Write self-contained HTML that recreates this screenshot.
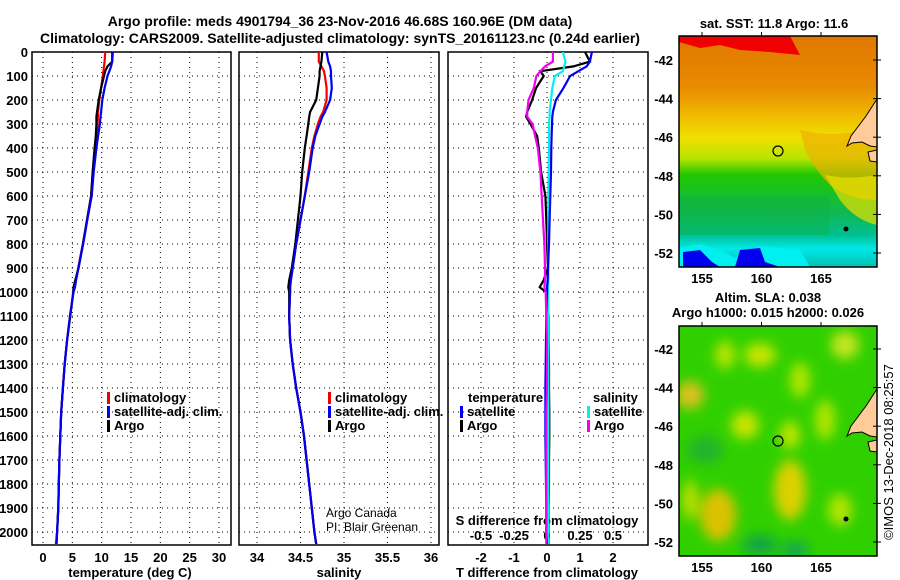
<!DOCTYPE html>
<html><head><meta charset="utf-8">
<style>
html,body{margin:0;padding:0;background:#fff;}
svg{display:block;font-family:"Liberation Sans",sans-serif;}
.t{font-weight:bold;font-size:13px;fill:#000;}
.n{font-size:12px;fill:#000;}
.ttl{font-weight:bold;font-size:14px;fill:#000;}
.grid{stroke:#000;stroke-width:1;stroke-dasharray:1,4;}
</style></head>
<body>
<svg id="chart" width="900" height="580" viewBox="0 0 900 580" xmlns="http://www.w3.org/2000/svg">
<defs>
<linearGradient id="sstGrad" x1="0" y1="0" x2="0" y2="1">
<stop offset="0" stop-color="#e07800"/><stop offset="0.22" stop-color="#e88a00"/>
<stop offset="0.34" stop-color="#f0b800"/><stop offset="0.44" stop-color="#f0e000"/>
<stop offset="0.53" stop-color="#b8e400"/><stop offset="0.6" stop-color="#20c800"/>
<stop offset="0.76" stop-color="#10b850"/><stop offset="0.86" stop-color="#00c090"/>
<stop offset="0.92" stop-color="#00e8e8"/><stop offset="1" stop-color="#00c0b0"/>
</linearGradient>
<filter id="blur" x="-30%" y="-30%" width="160%" height="160%"><feGaussianBlur stdDeviation="6"/></filter>
<clipPath id="clipTop"><rect x="679" y="36" width="198" height="231"/></clipPath>
<clipPath id="clipBot"><rect x="679" y="326" width="198" height="230"/></clipPath>
</defs>

<text class="ttl" x="340" y="26" text-anchor="middle">Argo profile: meds 4901794_36 23-Nov-2016 46.68S 160.96E (DM data)</text>
<text class="ttl" x="340" y="43" text-anchor="middle">Climatology: CARS2009. Satellite-adjusted climatology: synTS_20161123.nc (0.24d earlier)</text>

<g id="p1"></g>
<g id="p2"></g>
<g id="p3"></g>

<!-- SST map -->
<g>
<g clip-path="url(#clipTop)">
<rect x="679" y="36" width="198" height="231" fill="url(#sstGrad)"/>
<path d="M679,36 L790,36 L800,55 L770,52 L740,50 L720,45 L700,48 L679,42Z" fill="#f00000"/>
<path d="M800,130 Q840,140 877,125 L877,200 Q850,200 830,185 Q815,170 805,150Z" fill="#f0b000" opacity="0.7"/>
<path d="M825,175 Q850,180 877,175 L877,225 Q855,220 840,200Z" fill="#e8e000" opacity="0.7"/>
<rect x="679" y="195" width="150" height="40" fill="#10b040" opacity="0.4"/>
<path d="M679,248 L700,244 L720,250 L735,258 L760,246 L800,250 L810,267 L679,267Z" fill="#00f0f0"/>
<path d="M683,252 L700,250 L712,262 L720,267 L683,267Z" fill="#0000f0"/>
<path d="M740,250 L760,248 L765,262 L780,267 L735,267Z" fill="#0000f0"/>
<path d="M877,99 L866,116 L857,128 L851,136 L847,146 L852,143 L862,142 L870,146 L877,147Z" fill="#ffcc99" stroke="#000" stroke-width="1"/>
<path d="M868,152 L877,150 L877,162 L870,161Z" fill="#ffcc99" stroke="#000" stroke-width="1"/>
<circle cx="846" cy="229" r="2.5" fill="#000"/>
</g>
<rect x="679" y="36" width="198" height="231" fill="none" stroke="#000" stroke-width="1.5"/>
<circle cx="778" cy="151" r="5" fill="none" stroke="#000" stroke-width="1.2"/>
<text class="t" x="774" y="28" text-anchor="middle">sat. SST: 11.8 Argo: 11.6</text>
<g id="mapTopTicks"></g>
</g>

<!-- SLA map -->
<g>
<g clip-path="url(#clipBot)">
<rect x="679" y="326" width="198" height="230" fill="#30d000"/>
<g filter="url(#blur)" opacity="0.9">
<ellipse cx="690" cy="395" rx="14" ry="14" fill="#f0c020"/>
<ellipse cx="760" cy="355" rx="16" ry="12" fill="#d8e800"/>
<ellipse cx="725" cy="355" rx="10" ry="14" fill="#c8e800"/>
<ellipse cx="845" cy="345" rx="14" ry="14" fill="#d8e820"/>
<ellipse cx="800" cy="380" rx="10" ry="18" fill="#c0e800"/>
<ellipse cx="745" cy="425" rx="14" ry="14" fill="#d8e800"/>
<ellipse cx="790" cy="435" rx="10" ry="14" fill="#d0e800"/>
<ellipse cx="825" cy="420" rx="10" ry="20" fill="#c0e800"/>
<ellipse cx="790" cy="490" rx="16" ry="30" fill="#f0d000"/>
<ellipse cx="718" cy="515" rx="18" ry="26" fill="#f0c000"/>
<ellipse cx="690" cy="500" rx="8" ry="20" fill="#d0e000"/>
<ellipse cx="840" cy="510" rx="12" ry="16" fill="#c0e800"/>
<ellipse cx="760" cy="545" rx="18" ry="10" fill="#10a050"/>
<ellipse cx="795" cy="550" rx="14" ry="8" fill="#10a060"/>
<ellipse cx="705" cy="450" rx="18" ry="14" fill="#20b030"/>
</g>
<path d="M877,389 L866,406 L857,418 L851,426 L847,436 L852,433 L862,432 L870,436 L877,437Z" fill="#ffcc99" stroke="#000" stroke-width="1"/>
<path d="M868,442 L877,440 L877,452 L870,451Z" fill="#ffcc99" stroke="#000" stroke-width="1"/>
<circle cx="846" cy="519" r="2.5" fill="#000"/>
</g>
<rect x="679" y="326" width="198" height="230" fill="none" stroke="#000" stroke-width="1.5"/>
<circle cx="778" cy="441" r="5" fill="none" stroke="#000" stroke-width="1.2"/>
<text class="t" x="768" y="302" text-anchor="middle">Altim. SLA: 0.038</text>
<text class="t" x="768" y="317" text-anchor="middle">Argo h1000: 0.015 h2000: 0.026</text>
<g id="mapBotTicks"></g>
</g>
<text x="893" y="452" font-size="13" text-anchor="middle" transform="rotate(-90 893 452)" fill="#000">©IMOS 13-Dec-2018 08:25:57</text>

<script>
const depths      = [0,40,60,80,100,150,200,250,270,300,350,400,500,600,700,800,900,950,980,1000,1100,1200,1300,1400,1500,1600,1700,1800,1900,2000,2050];
const tempClim    = [10.6,10.5,10.4,10.3,10.2,9.9,9.6,9.4,9.35,9.3,9.1,8.9,8.5,8.2,7.5,6.8,6.0,5.6,5.4,5.2,4.6,4.1,3.7,3.4,3.1,2.95,2.8,2.7,2.6,2.4,2.2];
const tempSat     = [11.9,11.8,11.6,11.3,11.0,10.5,10.1,9.9,9.8,9.7,9.4,9.1,8.65,8.3,7.55,6.85,6.05,5.65,5.45,5.2,4.6,4.1,3.7,3.4,3.1,2.95,2.8,2.7,2.6,2.4,2.3];
const tempArgo    = [11.8,11.8,11.0,10.6,10.4,9.9,9.5,9.2,9.1,9.1,9.0,8.8,8.45,8.2,7.5,6.8,6.05,5.5,5.2,5.15,4.65,4.1,3.7,3.4,3.1,2.95,2.8,2.7,2.6,2.4,2.3];
const salClim     = [34.71,34.71,34.74,34.77,34.78,34.80,34.80,34.76,34.73,34.70,34.66,34.63,34.59,34.55,34.50,34.45,34.41,34.39,34.38,34.38,34.37,34.38,34.41,34.45,34.50,34.54,34.57,34.60,34.63,34.66,34.68];
const salSat      = [34.80,34.82,34.84,34.85,34.85,34.86,34.84,34.78,34.75,34.72,34.67,34.64,34.60,34.55,34.50,34.45,34.41,34.39,34.38,34.38,34.37,34.38,34.41,34.45,34.50,34.54,34.57,34.60,34.63,34.66,34.68];
const salArgo     = [34.75,34.74,34.73,34.72,34.72,34.70,34.68,34.61,34.60,34.59,34.57,34.55,34.52,34.50,34.47,34.44,34.40,34.37,34.36,34.37,34.37,34.38,34.41,34.45,34.50,34.54,34.57,34.60,34.63,34.66,34.68];
const tDiffSat    = [1.36,1.3,1.2,0.95,0.7,0.5,0.27,0.18,0.16,0.15,0.14,0.13,0.12,0.1,0.08,0.06,0.03,0.02,0.0,0.0,-0.02,-0.03,-0.04,-0.05,-0.05,-0.05,-0.04,-0.03,-0.02,-0.02,0.0];
const tDiffArgo   = [1.15,1.3,0.8,-0.2,-0.1,-0.33,-0.45,-0.6,-0.63,-0.5,-0.3,-0.25,-0.18,-0.05,-0.02,0.0,0.03,-0.1,-0.22,-0.03,0.05,0.05,0.06,0.06,0.07,0.07,0.06,0.06,0.05,0.05,0.05];
const sDiffSat    = [0.12,0.14,0.13,0.12,0.06,0.04,0.03,0.02,0.02,0.015,0.015,0.015,0.012,0.01,0.01,0.01,0.01,0.01,0.01,0.01,0.01,0.01,0.01,0.01,0.01,0.01,0.01,0.01,0.01,0.01,0.01];
const sDiffArgo   = [0.045,0.045,-0.015,-0.05,-0.08,-0.1,-0.14,-0.15,-0.15,-0.11,-0.09,-0.07,-0.05,-0.04,-0.03,-0.02,-0.015,-0.015,-0.02,-0.01,-0.005,0,0,0,-0.005,-0.005,-0.005,-0.005,-0.005,-0.005,-0.005];
const depthTicks  = [0,100,200,300,400,500,600,700,800,900,1000,1100,1200,1300,1400,1500,1600,1700,1800,1900,2000];
const tempTicks   = [0,5,10,15,20,25,30];
const salTicks    = [34,34.5,35,35.5,36];
const salTickLabels = ["34","34.5","35","35.5","36"];
const tdTicks     = [-2,-1,0,1,2];
const sdTicks     = [-0.5,-0.25,0,0.25,0.5];
const sdTickLabels = ["-0.5","-0.25","0","0.25","0.5"];
const latTicks    = [-42,-44,-46,-48,-50,-52];
const lonTicks    = [155,160,165];

const NS = "http://www.w3.org/2000/svg";
const TOP = 52, BOT = 545, D0 = 0, D1 = 2054;
const yD = d => TOP + (d - D0) / (D1 - D0) * (BOT - TOP);
function mk(parent, tag, attrs, txt) {
  const e = document.createElementNS(NS, tag);
  for (const k in attrs) e.setAttribute(k, attrs[k]);
  if (txt !== undefined) e.textContent = txt;
  parent.appendChild(e); return e;
}
function panel(g, x0, x1, xScale, vTicks, name) {
  for (const t of vTicks) {
    const l = mk(g, "line", {x1: xScale(t), x2: xScale(t), y1: TOP, y2: BOT, class: "grid"});
    
    
  }
  for (const d of depthTicks) {
    const l = mk(g, "line", {x1: x0, x2: x1, y1: yD(d), y2: yD(d), class: "grid"});
    
    
  }
  const r = mk(g, "rect", {x: x0, y: TOP, width: x1 - x0, height: BOT - TOP, fill: "none", stroke: "#000", "stroke-width": 1.5});
  
  
}
function line(g, xs, xScale, color, name) {
  const pts = [];
  for (let i = 0; i < depths.length; i++) pts.push(xScale(xs[i]).toFixed(1) + "," + yD(depths[i]).toFixed(1));
  const p = mk(g, "polyline", {points: pts.join(" "), fill: "none", stroke: color, "stroke-width": 2.2});
  
  
}
function label(g, x, y, s, anchor, cls, name) {
  const t = mk(g, "text", {x: x, y: y, "text-anchor": anchor, class: cls}, s);
  
  
  return t;
}
function legend(g, x, y, color, s, name) {
  const r = mk(g, "rect", {x: x, y: y - 10, width: 3, height: 12, fill: color});
  
  
  label(g, x + 7, y, s, "start", "t", name);
}

const p1 = document.getElementById("p1");
const xT = v => 43 + v * (219 - 43) / 30;
panel(p1, 32, 231, xT, tempTicks, "temperature");
for (const d of depthTicks) label(p1, 28, yD(d) + 5, String(d), "end", "t", "depth-tick-label");
for (const t of tempTicks) label(p1, xT(t), 562, String(t), "middle", "t", "temperature-tick-label");
label(p1, 130, 577, "temperature (deg C)", "middle", "t", "temperature-axis-title");
line(p1, tempClim, xT, "#f00000", "temperature-climatology-line");
line(p1, tempArgo, xT, "#000", "temperature-argo-line");
line(p1, tempSat, xT, "#0000f0", "temperature-satellite-line");
legend(p1, 107, 402, "#f00000", "climatology", "legend-climatology");
legend(p1, 107, 416, "#0000f0", "satellite-adj. clim.", "legend-satellite-adj");
legend(p1, 107, 430, "#000", "Argo", "legend-argo");

const p2 = document.getElementById("p2");
const xS = v => 257 + (v - 34) * 87;
panel(p2, 239, 439, xS, salTicks, "salinity");
salTicks.forEach((t, i) => label(p2, xS(t), 562, salTickLabels[i], "middle", "t", "salinity-tick-label"));
label(p2, 339, 577, "salinity", "middle", "t", "salinity-axis-title");
line(p2, salClim, xS, "#f00000", "salinity-climatology-line");
line(p2, salArgo, xS, "#000", "salinity-argo-line");
line(p2, salSat, xS, "#0000f0", "salinity-satellite-line");
legend(p2, 328, 402, "#f00000", "climatology", "legend-climatology-2");
legend(p2, 328, 416, "#0000f0", "satellite-adj. clim.", "legend-satellite-adj-2");
legend(p2, 328, 430, "#000", "Argo", "legend-argo-2");
label(p2, 326, 517, "Argo Canada", "start", "n", "argo-canada-credit");
label(p2, 326, 531, "PI: Blair Greenan", "start", "n", "pi-credit");

const p3 = document.getElementById("p3");
const xTD = v => 547 + v * 33;
const xSD = v => 547 + v * 132;
panel(p3, 448, 648, xTD, tdTicks, "difference");
for (const t of tdTicks) label(p3, xTD(t), 562, String(t), "middle", "t", "t-diff-tick-label");
sdTicks.forEach((t, i) => label(p3, xSD(t), 540, sdTickLabels[i], "middle", "t", "s-diff-tick-label"));
label(p3, 547, 525, "S difference from climatology", "middle", "t", "s-diff-axis-title");
label(p3, 547, 577, "T difference from climatology", "middle", "t", "t-diff-axis-title");
line(p3, tDiffArgo, xTD, "#000", "t-diff-argo-line");
line(p3, sDiffSat, xSD, "#00f0f0", "s-diff-satellite-line");
line(p3, tDiffSat, xTD, "#0000f0", "t-diff-satellite-line");
line(p3, sDiffArgo, xSD, "#f000f0", "s-diff-argo-line");
label(p3, 468, 402, "temperature", "start", "t", "legend-temperature-heading");
legend(p3, 460, 416, "#0000f0", "satellite", "legend-t-satellite");
legend(p3, 460, 430, "#000", "Argo", "legend-t-argo");
label(p3, 593, 402, "salinity", "start", "t", "legend-salinity-heading");
legend(p3, 587, 416, "#00f0f0", "satellite", "legend-s-satellite");
legend(p3, 587, 430, "#f000f0", "Argo", "legend-s-argo");

function mapTicks(gid, frameTop, frameBot, y42, name) {
  const g = document.getElementById(gid);
  const yL = lat => y42 + (-42 - lat) * 19.3;
  const xL = lon => 702 + (lon - 155) * 11.9;
  for (const la of latTicks) {
    label(g, 673, yL(la) + 5, String(la), "end", "t", name + "-lat-label");
    const b = mk(g, "line", {x1: 873, x2: 881, y1: yL(la), y2: yL(la), stroke: "#000"});
    
    
  }
  for (const lo of lonTicks) {
    label(g, xL(lo), frameBot + 16, String(lo), "middle", "t", name + "-lon-label");
    const c = mk(g, "line", {x1: xL(lo), x2: xL(lo), y1: frameTop - 4, y2: frameTop, stroke: "#000"});
    
    
  }
}
mapTicks("mapTopTicks", 36, 267, 60, "sst-map");
mapTicks("mapBotTicks", 326, 556, 349, "sla-map");
</script>
</svg>
</body></html>
